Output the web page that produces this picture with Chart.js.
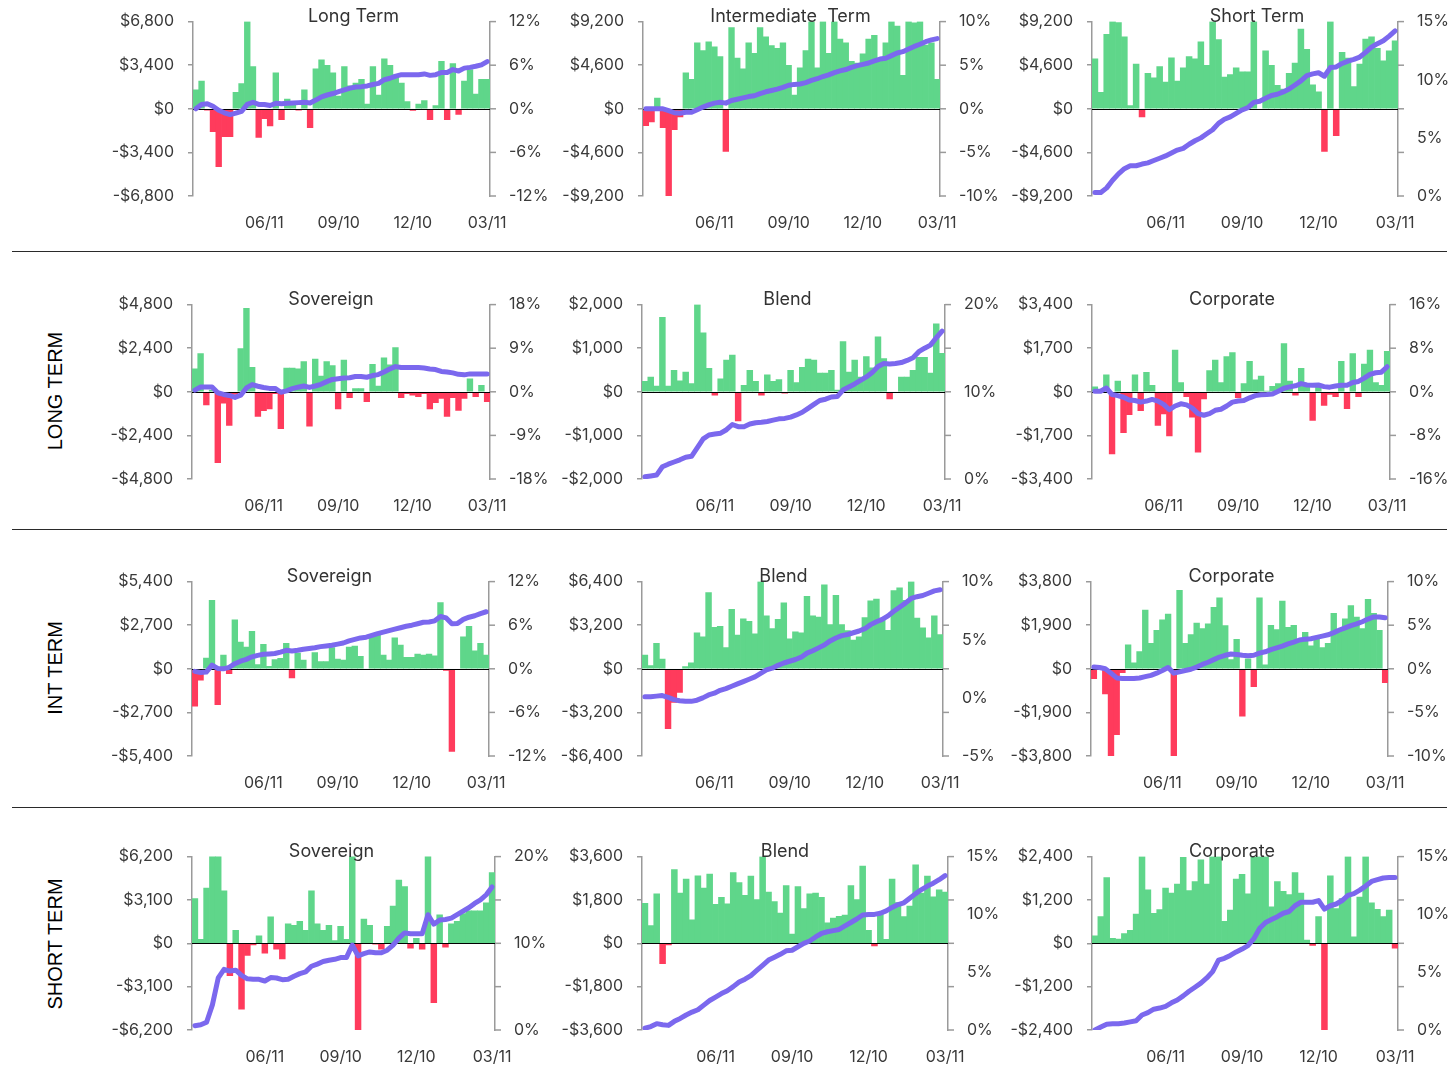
<!DOCTYPE html>
<html>
<head>
<meta charset="utf-8">
<script src="https://cdn.jsdelivr.net/npm/chart.js@4.4.1/dist/chart.umd.min.js"></script>
<style>
  html, body { margin: 0; padding: 0; background: #fff; }
  #page { position: relative; width: 1456px; height: 1068px; overflow: hidden; background: #fff; }
  #page canvas { position: absolute; }
  .rule { position: absolute; left: 12px; width: 1435px; height: 0; border-top: 1.5px solid #2a2a2a; }
  .rowLabel { position: absolute; left: 55px; font: 20px "Liberation Sans", Arial, sans-serif; color: #000;
              white-space: nowrap; transform: translate(-50%, -50%) rotate(-90deg); }
</style>
</head>
<body>
<div id="page">
  <div class="rule" style="top:251px"></div>
  <div class="rule" style="top:529px"></div>
  <div class="rule" style="top:807px"></div>
  <div class="rowLabel" style="top:391px">LONG TERM</div>
  <div class="rowLabel" style="top:668px">INT TERM</div>
  <div class="rowLabel" style="top:944px">SHORT TERM</div>
</div>
<script>
// weekly dates, 03/19/2010 .. 03/11/2011
const weeks = ['03/19','03/26','04/02','04/09','04/16','04/23','04/30','05/07','05/14','05/21','05/28','06/04','06/11',
  '06/18','06/25','07/02','07/09','07/16','07/23','07/30','08/06','08/13','08/20','08/27','09/03','09/10',
  '09/17','09/24','10/01','10/08','10/15','10/22','10/29','11/05','11/12','11/19','11/26','12/03','12/10',
  '12/17','12/24','12/31','01/07','01/14','01/21','01/28','02/04','02/11','02/18','02/25','03/04','03/11'];
const tickLabels = ['06/11', '09/10', '12/10', '03/11'];

// weekly flows ($) and cumulative return (%)
const ltFlow = [1480,2170,-100,-1790,-4510,-2170,-2170,1275,1960,6800,3290,-2240,-765,-1330,2800,-840,765,300,-100,1480,-1480,3110,3825,3390,2800,1000,3290,1785,2000,2300,360,3290,1070,3900,3390,2650,2000,560,-130,360,640,-840,255,3700,-840,3520,-430,2170,3060,1150,2300,2300];
const ltReturn = [0,0.6,0.7,0.35,-0.2,-0.55,-0.8,-0.6,-0.35,0.6,0.9,0.6,0.6,0.45,0.75,0.7,0.75,0.8,0.85,0.9,0.8,1.2,1.65,1.9,2.1,2.35,2.6,2.85,3.0,3.05,3.15,3.35,3.5,4.0,4.2,4.5,4.7,4.7,4.7,4.7,4.8,4.6,4.7,5.0,5.0,5.4,5.2,5.6,5.7,5.85,6.05,6.5];

const itFlow = [-1790,-1380,1140,-2000,-9200,-2200,-860,3800,3100,6970,6140,7070,6550,5520,-4490,8560,5350,4210,6970,5865,8560,7590,6660,6380,6970,4590,1450,4310,6140,9200,4310,9200,5865,9200,7350,6970,5000,4830,5800,7350,7760,5000,6970,9200,8730,3520,9200,9070,9200,6730,6970,3100];
const itReturn = [0,0,0,0,-0.2,-0.45,-0.5,-0.4,-0.4,-0.1,0.2,0.45,0.65,0.75,0.65,0.95,1.1,1.25,1.4,1.5,1.75,1.95,2.1,2.25,2.45,2.7,2.8,2.85,3.0,3.25,3.45,3.7,3.9,4.15,4.35,4.5,4.75,4.95,5.1,5.25,5.5,5.7,5.8,6.1,6.4,6.55,6.85,7.15,7.4,7.7,7.9,8.05];

const stFlow = [5280,1725,7870,9200,9100,7590,345,4730,-860,3730,3280,4450,2830,5380,2930,4310,5520,5280,7070,4590,9200,7310,3350,3620,4310,3900,3900,9200,-70,6110,4590,2480,2070,3730,4830,8420,6280,2520,1790,-4490,9200,-2830,5970,5350,2350,4730,7350,7590,6380,5070,6110,7180];
const stReturn = [0.3,0.3,0.7,1.35,1.9,2.35,2.6,2.6,2.75,2.85,3.05,3.25,3.45,3.7,3.95,4.1,4.45,4.75,5.0,5.35,5.7,6.25,6.6,6.8,7.1,7.4,7.6,8.05,8.15,8.4,8.65,8.75,8.95,9.2,9.55,9.9,10.35,10.5,10.6,10.3,11.05,11.1,11.4,11.6,11.75,11.95,12.35,12.8,13.1,13.35,13.75,14.2];

const ltSovFlow = [1260,2100,-720,100,-3900,-630,-1850,-150,2380,4590,1350,-1350,-1040,-940,-100,-2030,1300,1300,1260,1660,-1890,1800,860,1670,1440,-940,1750,-320,180,180,-540,1510,310,1870,1480,2430,-320,-100,-180,-270,-100,-940,-600,-360,-1350,-320,-1030,-360,720,-270,360,-540];
const ltSovReturn = [0.35,1.0,1.0,1.0,-0.2,-0.55,-0.75,-1.15,-0.7,0.8,1.5,1.15,0.9,0.7,0.7,-0.1,0.2,0.65,0.95,1.2,0.9,1.2,1.55,2.1,2.55,2.7,2.85,2.9,3.15,3.15,3.0,3.35,3.55,4.1,4.7,5.2,5.0,5.0,5.0,5.0,4.9,4.7,4.6,4.2,4.1,3.9,3.6,3.5,3.7,3.7,3.7,3.7];

const ltBlendFlow = [240,340,130,1710,130,490,250,450,190,2000,1350,540,-75,300,730,840,-670,150,490,240,-75,390,240,280,-30,490,210,560,750,730,430,430,490,40,1150,450,730,340,810,550,1260,760,-165,-20,340,340,490,790,790,430,1560,880];
const ltBlendReturn = [0.25,0.35,0.45,1.4,1.7,1.95,2.2,2.5,2.6,3.6,4.6,5.05,5.15,5.25,5.65,6.25,6.0,6.0,6.3,6.45,6.5,6.6,6.75,6.9,6.95,7.1,7.35,7.65,8.1,8.55,9.0,9.15,9.4,9.45,10.2,10.55,10.9,11.3,11.7,12.2,12.9,13.25,13.2,13.25,13.35,13.6,13.9,14.6,15.0,15.35,16.2,16.95];

const ltCorpFlow = [190,60,660,-2420,420,-1590,-890,660,-740,760,255,-1310,-865,-1720,1630,360,-190,-990,-2355,-280,830,1235,360,1375,1530,-230,320,1185,470,610,20,215,320,1885,420,-130,915,190,-1120,190,-535,-100,-190,1185,-660,1490,-190,1080,1630,360,255,1580];
const ltCorpReturn = [0.1,0.1,0.7,-0.5,-0.7,-1.0,-1.5,-1.6,-1.9,-1.7,-1.4,-1.7,-2.3,-3.3,-2.6,-2.2,-2.4,-3.0,-4.0,-4.3,-4.0,-3.4,-3.2,-2.6,-1.9,-1.7,-1.6,-1.1,-0.7,-0.55,-0.5,-0.4,0.1,0.65,0.9,1.1,1.5,1.25,1.2,1.25,0.95,0.85,1.05,1.2,1.2,1.7,1.9,2.5,3.2,3.5,3.6,4.6];

const itSovFlow = [-2320,-710,670,4240,-2220,850,-300,3030,1660,1350,2320,260,1515,160,565,650,1575,-565,970,545,-60,1010,445,445,1310,605,545,1350,1410,770,-60,1980,2120,850,545,1920,1475,705,705,910,850,910,810,4100,-100,-5110,-60,1980,2630,1110,1575,850];
const itSovReturn = [-0.35,-0.5,-0.45,0.5,0.05,0.0,0.2,0.7,1.05,1.3,1.65,1.85,2.0,2.05,2.1,2.3,2.55,2.45,2.55,2.7,2.8,2.9,3.05,3.15,3.25,3.4,3.55,3.85,4.05,4.25,4.35,4.6,4.85,5.05,5.25,5.45,5.65,5.85,6.0,6.2,6.4,6.45,6.6,7.2,7.0,6.2,6.25,6.8,7.1,7.3,7.6,7.85];

const itBlendFlow = [1010,240,1870,720,-4390,-2470,-1730,170,430,2640,2350,5590,3040,3120,1560,4360,2470,3670,3480,2560,6400,3880,2950,3640,4840,2200,2710,2640,5320,3880,3790,6160,3240,5390,3240,2800,2110,2350,3760,4990,5110,3600,2830,5750,5940,5030,6400,3720,3000,2280,3880,2520];
const itBlendReturn = [0.1,0.1,0.15,0.2,0.05,-0.15,-0.25,-0.3,-0.3,-0.2,0.0,0.25,0.4,0.65,0.8,1.0,1.2,1.4,1.6,1.8,2.1,2.4,2.55,2.8,3.0,3.15,3.3,3.5,3.85,4.05,4.3,4.55,4.9,5.15,5.35,5.45,5.6,5.75,5.95,6.3,6.55,6.75,7.05,7.45,7.8,8.15,8.55,8.7,8.8,9.0,9.2,9.3];

const itCorpFlow = [-430,-40,-1100,-3800,-2870,-170,1040,260,755,2560,1110,1680,2130,2390,-3800,3415,1110,1490,1990,1750,1960,2680,3090,1880,400,1280,-2060,430,-780,3090,170,1890,1710,2950,1810,1890,1210,1590,1000,1280,925,1110,2420,1640,2180,2750,2250,1750,3030,2420,1680,-600];
const itCorpReturn = [0.2,0.15,0.0,-0.5,-1.05,-1.1,-1.1,-1.1,-1.05,-0.9,-0.75,-0.5,-0.2,0.15,-0.5,-0.35,-0.2,-0.05,0.2,0.5,0.75,1.05,1.35,1.55,1.7,1.65,1.55,1.5,1.55,1.8,1.95,2.2,2.4,2.6,2.85,3.05,3.3,3.4,3.45,3.6,3.75,3.9,4.15,4.45,4.7,4.95,5.15,5.4,5.7,5.95,5.95,5.85];

const stSovFlow = [3200,280,3940,6300,6300,3760,-2320,930,-4710,-860,-120,530,-700,1900,-420,-1110,1390,1280,1580,930,3760,1390,930,1280,190,1210,280,6300,-6200,1740,1280,-60,-420,1210,2670,4520,4060,-350,350,-420,6300,-4250,2040,-280,1390,1580,2130,2320,2320,2320,2900,5060];
const stSovReturn = [0.5,0.6,0.9,2.9,6.0,7.0,6.8,6.9,6.3,5.9,5.85,5.85,5.65,6.05,6.0,5.8,5.85,6.2,6.5,6.7,7.35,7.6,7.9,8.05,8.15,8.35,8.35,9.8,8.55,8.8,9.0,8.9,8.9,9.2,9.8,10.6,11.2,11.1,11.1,11.1,13.3,12.2,12.7,12.75,12.9,13.3,13.7,14.1,14.6,15.0,15.6,16.5];

const stBlendFlow = [1660,740,2050,-850,-70,3060,2090,2670,970,2800,2290,2870,1620,1910,1640,2940,2520,1990,2790,1820,3600,2130,1730,1250,2400,380,2360,1440,2050,2090,1910,850,1050,1120,1170,2400,1820,3210,540,-110,1240,160,2670,1690,1110,1550,3260,2090,2790,1930,2220,2130];
const stBlendReturn = [0.15,0.3,0.55,0.45,0.4,0.75,1.0,1.3,1.55,1.75,2.15,2.55,2.85,3.15,3.4,3.75,4.15,4.4,4.7,5.15,5.6,6.05,6.3,6.55,6.85,6.9,7.2,7.5,7.7,8.05,8.35,8.5,8.6,8.7,9.0,9.3,9.6,9.95,10.0,10.0,10.1,10.3,10.6,10.85,11.0,11.4,11.8,12.15,12.45,12.7,13.0,13.35];

const stCorpFlow = [210,740,1820,135,120,270,360,810,2400,1480,830,930,1530,1390,1640,2380,1460,1710,2310,1640,2400,2400,610,920,1780,1910,1370,2400,2400,2400,1010,1710,1440,1350,1960,1390,90,-60,740,-2400,1870,960,1240,2400,180,1280,2400,1120,940,740,920,-135];
const stCorpReturn = [0.0,0.25,0.5,0.55,0.55,0.6,0.7,0.8,1.3,1.5,1.8,1.9,2.05,2.35,2.6,2.95,3.35,3.7,4.05,4.5,5.05,6.05,6.2,6.45,6.75,7.0,7.3,7.9,8.8,9.3,9.55,9.8,10.1,10.25,10.75,11.05,11.05,11.05,11.2,10.45,10.75,10.9,11.2,11.65,11.8,12.1,12.45,12.85,13.0,13.15,13.2,13.2];

// panel content and axis ranges
const panels = [
  { title: 'Long Term',         flow: ltFlow,      ret: ltReturn,      yMax: 6800, rMin: -12, rMax: 12, rStep: 6 },
  { title: 'Intermediate  Term', flow: itFlow,     ret: itReturn,      yMax: 9200, rMin: -10, rMax: 10, rStep: 5 },
  { title: 'Short Term',        flow: stFlow,      ret: stReturn,      yMax: 9200, rMin: 0,   rMax: 15, rStep: 5 },
  { title: 'Sovereign',         flow: ltSovFlow,   ret: ltSovReturn,   yMax: 4800, rMin: -18, rMax: 18, rStep: 9 },
  { title: 'Blend',             flow: ltBlendFlow, ret: ltBlendReturn, yMax: 2000, rMin: 0,   rMax: 20, rStep: 10 },
  { title: 'Corporate',         flow: ltCorpFlow,  ret: ltCorpReturn,  yMax: 3400, rMin: -16, rMax: 16, rStep: 8 },
  { title: 'Sovereign',         flow: itSovFlow,   ret: itSovReturn,   yMax: 5400, rMin: -12, rMax: 12, rStep: 6 },
  { title: 'Blend',             flow: itBlendFlow, ret: itBlendReturn, yMax: 6400, rMin: -5,  rMax: 10, rStep: 5 },
  { title: 'Corporate',         flow: itCorpFlow,  ret: itCorpReturn,  yMax: 3800, rMin: -10, rMax: 10, rStep: 5 },
  { title: 'Sovereign',         flow: stSovFlow,   ret: stSovReturn,   yMax: 6200, rMin: 0,   rMax: 20, rStep: 10 },
  { title: 'Blend',             flow: stBlendFlow, ret: stBlendReturn, yMax: 3600, rMin: 0,   rMax: 15, rStep: 5 },
  { title: 'Corporate',         flow: stCorpFlow,  ret: stCorpReturn,  yMax: 2400, rMin: 0,   rMax: 15, rStep: 5 }
];

// plot-area boxes on the page (px)
const boxes = [
  { left: 193,  right: 490,  top: 19,  bottom: 196,  titleDx: 12 },
  { left: 643,  right: 940,  top: 19,  bottom: 196,  titleDx: -1 },
  { left: 1092, right: 1398, top: 19,  bottom: 196,  titleDx: 12 },
  { left: 192,  right: 490,  top: 302, bottom: 479,  titleDx: -10 },
  { left: 642,  right: 945,  top: 302, bottom: 479,  titleDx: -6 },
  { left: 1092, right: 1390, top: 302, bottom: 479,  titleDx: -9 },
  { left: 192,  right: 489,  top: 579, bottom: 756,  titleDx: -11 },
  { left: 642,  right: 943,  top: 579, bottom: 756,  titleDx: -9 },
  { left: 1091, right: 1388, top: 579, bottom: 756,  titleDx: -8 },
  { left: 192,  right: 495,  top: 854, bottom: 1030, titleDx: -12 },
  { left: 642,  right: 948,  top: 854, bottom: 1030, titleDx: -10 },
  { left: 1092, right: 1398, top: 854, bottom: 1030, titleDx: -13 }
];

const GREEN = '#5fd68a';
const RED = '#ff3b5c';
const PURPLE = '#7b68ee';
const AXIS = '#9a9a9a';
const TEXT = '#3a3a3a';
const FONT = 'Inter, "Noto Sans", sans-serif';

Chart.defaults.font.family = FONT;

const money = v => (v < 0 ? '-' : '') + '$' + Math.abs(v).toLocaleString('en-US');

// zero line between bars and line, right tick marks, title
const decor = {
  id: 'decor',
  afterDatasetDraw(chart, args) {
    if (args.meta.type !== 'bar') return;
    const { ctx, chartArea } = chart;
    const y0 = Math.round(chart.scales.y.getPixelForValue(0)) + 0.5;
    ctx.save();
    ctx.strokeStyle = '#000';
    ctx.lineWidth = 1.2;
    ctx.beginPath();
    ctx.moveTo(chartArea.left, y0);
    ctx.lineTo(chartArea.right, y0);
    ctx.stroke();
    ctx.restore();
  },
  afterDraw(chart, args, opts) {
    const { ctx, chartArea } = chart;
    ctx.save();
    ctx.strokeStyle = AXIS;
    ctx.lineWidth = 1.5;
    chart.scales.y.ticks.forEach(t => {
      const py = chart.scales.y.getPixelForValue(t.value);
      ctx.beginPath();
      ctx.moveTo(chartArea.right, py);
      ctx.lineTo(chartArea.right + 6, py);
      ctx.stroke();
    });
    ctx.fillStyle = '#333';
    ctx.font = '18px ' + FONT;
    ctx.textAlign = 'center';
    ctx.textBaseline = 'alphabetic';
    ctx.fillText(opts.title, (chartArea.left + chartArea.right) / 2 + opts.dx, chartArea.top);
    ctx.restore();
  }
};

const page = document.getElementById('page');
const padL = 110, padR = 80, padT = 26, padB = 50;

panels.forEach((p, i) => {
  const box = boxes[i];
  const w = box.right - box.left + padL + padR;
  const h = box.bottom - box.top + padT + padB;
  const cv = document.createElement('canvas');
  cv.width = w;
  cv.height = h;
  cv.style.left = (box.left - padL) + 'px';
  cv.style.top = (box.top - padT) + 'px';
  cv.style.width = w + 'px';
  cv.style.height = h + 'px';
  page.appendChild(cv);

  new Chart(cv.getContext('2d'), {
    type: 'bar',
    data: {
      labels: weeks,
      datasets: [
        {
          type: 'line',
          data: p.ret,
          yAxisID: 'y2',
          borderColor: PURPLE,
          borderWidth: 5,
          pointRadius: 0,
          tension: 0,
          borderJoinStyle: 'round',
          borderCapStyle: 'round',
          order: 0
        },
        {
          type: 'bar',
          data: p.flow,
          yAxisID: 'y',
          backgroundColor: ctx => (ctx.raw >= 0 ? GREEN : RED),
          barPercentage: 1,
          categoryPercentage: 1,
          clip: 0,
          order: 1
        }
      ]
    },
    options: {
      responsive: false,
      animation: false,
      devicePixelRatio: 1,
      layout: { padding: { top: padT } },
      plugins: {
        legend: { display: false },
        tooltip: { enabled: false },
        decor: { title: p.title, dx: box.titleDx }
      },
      scales: {
        x: {
          grid: { display: false, drawTicks: false },
          border: { display: false },
          ticks: {
            autoSkip: false,
            maxRotation: 0,
            padding: 18,
            color: TEXT,
            font: { size: 16 },
            callback: (v, idx) => (tickLabels.includes(weeks[idx]) ? weeks[idx] : '')
          },
          afterFit: s => { s.height = padB; }
        },
        y: {
          position: 'left',
          min: -p.yMax,
          max: p.yMax,
          ticks: { stepSize: p.yMax / 2, padding: 14, color: TEXT, font: { size: 16 }, callback: money },
          grid: { drawOnChartArea: false, tickLength: 5, color: AXIS, lineWidth: 1.5 },
          border: { color: AXIS, width: 1.5 },
          afterFit: s => { s.width = padL; }
        },
        y2: {
          position: 'right',
          min: p.rMin,
          max: p.rMax,
          ticks: { stepSize: p.rStep, padding: 19, color: TEXT, font: { size: 16 }, callback: v => v + '%' },
          grid: { drawOnChartArea: false, drawTicks: false },
          border: { color: AXIS, width: 1.5 },
          afterFit: s => { s.width = padR; }
        }
      }
    },
    plugins: [decor]
  });
});
</script>
</body>
</html>
